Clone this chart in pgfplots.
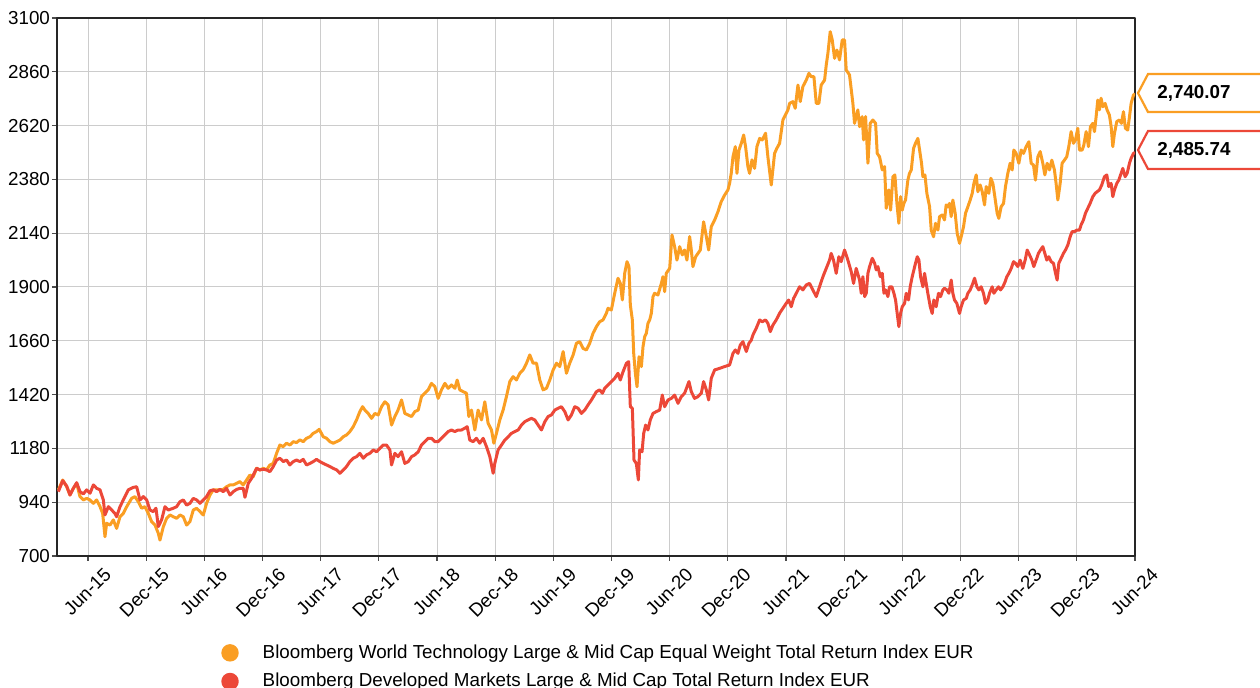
\documentclass[border=0pt]{standalone}
\usepackage{fontspec}
\setmainfont{Liberation Sans}
\usepackage{pgfplots}
\pgfplotsset{compat=1.18}
\definecolor{cOrange}{RGB}{250,158,35}
\definecolor{cRed}{RGB}{236,72,56}
\begin{document}
\begin{tikzpicture}
\useasboundingbox (0,0) rectangle (630pt,344pt);
\begin{axis}[
  at={(28.5pt,66pt)}, anchor=south west,
  scale only axis, width=539pt, height=269pt,
  xmin=1.8, xmax=113, ymin=700, ymax=3100,
  xtick={5,11,17,23,29,35,41,47,53,59,65,71,77,83,89,95,101,107,113},
  xticklabels={Jun-15,Dec-15,Jun-16,Dec-16,Jun-17,Dec-17,Jun-18,Dec-18,Jun-19,Dec-19,Jun-20,Dec-20,Jun-21,Dec-21,Jun-22,Dec-22,Jun-23,Dec-23,Jun-24},
  ytick={700,940,1180,1420,1660,1900,2140,2380,2620,2860,3100},
  xtick pos=bottom, ytick pos=left,
  /pgf/number format/assume math mode=true,
  /pgf/number format/1000 sep={},
  tick label style={font=\fontsize{9.4}{11}\selectfont, text=black},
  xticklabel style={inner sep=0pt, xshift=7.5pt, yshift=-2.5pt, rotate=45, anchor=north east},
  yticklabel style={xshift=2.5pt},
  grid=major,
  major grid style={gray!40, line width=0.5pt},
  axis line style={black!85, line width=0.7pt},
  tick align=outside, major tick length=2.5pt,
  tick style={black!70, line width=0.6pt},
  legend style={at={(axis description cs:0.1465,-0.149)}, anchor=north west, draw=none, fill=none,
    font=\fontsize{9.4}{11}\selectfont, row sep=2pt,
    /tikz/every odd column/.append style={column sep=10pt}},
  legend cell align=left,
  legend image code/.code={\fill[#1] (0pt,0pt) circle (3.6pt);},
  line join=round,
]
\addplot[cOrange, line width=1.5pt] coordinates {
(1.94,995) (2.39,1039) (2.80,1009) (3.14,972) (3.49,1002) (3.83,1024) (4.17,965) (4.52,950) (4.86,957) (5.21,950) (5.55,935) (5.89,950) (6.24,920) (6.51,890) (6.75,786) (6.92,846) (7.27,838) (7.61,861) (7.95,823) (8.30,875) (8.64,890) (8.99,920) (9.50,957) (9.84,965) (10.19,942) (10.53,913) (10.88,920) (11.22,890) (11.56,853) (11.91,838) (12.25,801) (12.42,771) (12.77,831) (13.11,868) (13.45,883) (13.80,875) (14.14,868) (14.48,883) (14.83,875) (15.17,838) (15.51,853) (15.86,905) (16.20,913) (16.55,898) (16.89,883) (17.23,935) (17.58,972) (17.92,995) (18.61,995) (18.95,997) (19.29,1009) (19.64,1017) (19.98,1017) (20.33,1024) (20.67,1032) (21.01,1017) (21.36,1039) (21.70,1061) (22.04,1054) (22.39,1091) (22.73,1084) (23.08,1091) (23.42,1084) (23.76,1106) (24.11,1113) (24.45,1158) (24.79,1195) (25.14,1188) (25.48,1203) (25.82,1195) (26.17,1210) (26.51,1206) (26.86,1218) (27.20,1210) (27.54,1225) (27.89,1232) (28.23,1247) (28.57,1255) (28.85,1265)
(29.26,1232) (29.61,1225) (29.95,1210) (30.29,1203) (30.64,1210) (30.98,1217) (31.33,1232) (31.67,1240) (32.01,1255) (32.36,1277) (32.70,1307) (33.04,1344) (33.32,1366) (33.56,1351) (33.90,1336) (34.25,1314) (34.59,1336) (34.93,1329) (35.28,1366) (35.62,1388) (35.96,1374) (36.31,1284) (36.65,1322) (36.98,1351) (37.34,1396) (37.68,1336) (38.03,1329) (38.37,1322) (38.71,1344) (39.06,1351) (39.40,1411) (39.74,1426) (40.09,1441) (40.43,1470) (40.78,1455) (41.12,1403) (41.46,1441) (41.81,1470) (42.15,1448) (42.49,1463) (42.84,1448) (43.08,1485) (43.35,1441) (43.70,1433) (44.04,1426) (44.28,1322) (44.56,1351) (44.90,1262) (45.24,1351) (45.59,1307) (45.93,1388) (46.27,1292) (46.62,1262) (46.86,1203) (47.13,1247) (47.48,1307) (47.82,1351) (48.16,1411) (48.51,1478) (48.85,1500) (49.19,1485) (49.54,1515) (49.88,1530) (50.23,1560) (50.57,1597) (50.91,1560) (51.26,1560) (51.60,1485) (51.94,1441) (52.29,1448) (52.63,1485) (52.98,1530) (53.32,1560) (53.66,1545) (54.01,1612) (54.35,1515) (54.69,1560) (55.04,1597) (55.38,1649) (55.72,1656) (56.07,1626) (56.41,1619) (56.75,1649)
(57.09,1693) (57.44,1723) (57.78,1745) (58.12,1753) (58.47,1783) (58.64,1805) (58.98,1797) (59.33,1872) (59.67,1939) (59.91,1916) (60.12,1842) (60.36,1961) (60.60,2013) (60.80,1991) (60.94,1820) (61.15,1753) (61.29,1604) (61.46,1515) (61.63,1455) (61.84,1589) (62.08,1545) (62.25,1634) (62.42,1678) (62.59,1693) (62.76,1738) (62.94,1753) (63.11,1783) (63.28,1857) (63.45,1872) (63.79,1864) (64.14,1916) (64.31,1946) (64.48,1879) (64.65,1961) (65.00,1983) (65.24,2132) (65.51,2080) (65.75,2020) (66.03,2080) (66.30,2043) (66.54,2065) (66.78,2020) (67.06,2125) (67.23,2065) (67.40,1991) (67.68,2035) (67.92,2050) (68.16,2065) (68.50,2191) (68.78,2125) (69.02,2065) (69.29,2169) (69.64,2199) (69.98,2236) (70.32,2281) (70.67,2310) (71.01,2333) (71.18,2362) (71.35,2407) (71.53,2481) (71.77,2526) (71.94,2407) (72.15,2511) (72.39,2541) (72.63,2578) (72.83,2526) (73.07,2437) (73.24,2407) (73.49,2467) (73.76,2429) (74.00,2526) (74.28,2563) (74.55,2556) (74.89,2586) (75.13,2481) (75.48,2355) (75.82,2496) (76.06,2519) (76.34,2541) (76.68,2645) (76.85,2660) (77.20,2690) (77.37,2719) (77.71,2727) (77.95,2697) (78.23,2801) (78.47,2727) (78.74,2794) (79.09,2823) (79.36,2853) (79.60,2838) (79.88,2838) (80.12,2719) (80.39,2719) (80.63,2801) (80.98,2823) (81.15,2890) (81.32,2942) (81.56,3039) (81.77,3002) (82.01,2920) (82.25,2957) (82.52,2913) (82.80,3002) (83.04,3002) (83.21,2868) (83.55,2846) (83.90,2719) (84.07,2630) (84.41,2690)
(84.59,2615) (84.86,2660) (85.00,2556) (85.21,2660) (85.45,2452) (85.69,2630) (85.96,2645) (86.24,2630) (86.41,2496) (86.65,2481) (86.93,2422) (87.17,2437) (87.34,2251) (87.61,2333) (87.79,2243) (88.03,2392) (88.23,2400) (88.44,2273) (88.64,2184) (88.82,2303) (88.99,2243) (89.16,2273) (89.33,2288) (89.57,2377) (89.74,2407) (89.92,2422) (90.16,2519) (90.36,2541) (90.60,2563) (90.78,2511) (90.98,2452) (91.12,2392) (91.33,2400) (91.53,2318) (91.81,2258) (91.98,2154) (92.22,2124) (92.42,2184) (92.67,2154) (92.84,2214) (93.11,2221) (93.35,2199) (93.52,2266) (93.70,2258) (93.87,2273) (94.04,2214) (94.21,2288) (94.45,2229) (94.66,2139) (94.90,2095) (95.07,2124) (95.31,2169) (95.52,2229) (95.76,2258) (96.00,2288) (96.21,2318) (96.38,2362) (96.62,2400) (96.79,2325) (97.03,2355) (97.24,2325) (97.48,2266) (97.65,2348) (97.92,2318) (98.13,2385) (98.34,2362) (98.54,2303) (98.78,2229) (98.95,2206) (99.19,2258) (99.44,2273) (99.64,2348) (99.88,2407) (100.12,2452) (100.33,2422) (100.50,2511) (100.74,2496) (101.02,2452) (101.26,2511) (101.50,2496) (101.77,2526) (102.05,2548) (102.29,2452) (102.53,2444) (102.73,2377) (102.98,2481) (103.22,2504) (103.49,2452) (103.70,2400) (103.94,2452) (104.18,2422) (104.42,2466) (104.69,2422) (104.86,2362) (105.04,2288) (105.28,2362) (105.48,2452) (105.72,2466) (105.96,2481) (106.17,2526) (106.41,2593) (106.65,2541) (106.86,2556) (107.10,2608) (107.27,2511) (107.55,2511) (107.72,2533) (107.96,2593) (108.20,2526) (108.40,2615) (108.65,2630) (108.82,2593) (108.99,2660) (109.16,2734) (109.33,2690) (109.50,2742) (109.68,2704) (109.92,2719) (110.12,2690) (110.36,2667) (110.54,2615) (110.71,2526) (110.88,2585) (111.12,2638) (111.39,2645) (111.60,2630) (111.81,2682) (112.01,2608) (112.25,2600) (112.43,2660) (112.60,2719) (112.84,2756) (113.00,2762)
};
\addlegendentry{Bloomberg World Technology Large \& Mid Cap Equal Weight Total Return Index EUR}
\addplot[cRed, line width=1.5pt] coordinates {
(1.94,987) (2.39,1036) (2.80,1012) (3.14,972) (3.49,1002) (3.83,1027) (4.17,987) (4.52,977) (4.86,995) (5.21,980) (5.55,1017) (5.89,1002) (6.24,995) (6.58,950) (6.75,883) (7.10,920) (7.44,905) (7.78,890) (7.95,875) (8.30,920) (8.64,950) (9.16,995) (9.67,1006) (10.02,1009) (10.36,950) (10.70,965) (11.05,950) (11.39,905) (11.73,898) (12.01,913) (12.25,831) (12.59,861) (12.94,920) (13.28,905) (13.80,913) (14.14,920) (14.48,942) (14.83,950) (15.17,927) (15.51,935) (15.86,957) (16.20,950) (16.55,935) (16.89,950) (17.23,965) (17.58,991) (17.92,995) (18.26,987) (18.61,997) (18.95,987) (19.29,1002) (19.64,972) (19.98,987) (20.33,997) (20.67,1002) (21.01,1002) (21.19,962) (21.53,1024) (21.87,1046) (22.39,1091) (22.73,1084) (23.08,1087) (23.42,1084) (23.76,1076) (24.11,1099) (24.45,1128) (24.79,1136) (25.14,1121) (25.48,1128) (25.82,1106) (26.17,1121) (26.51,1128) (26.86,1121) (27.20,1131) (27.54,1106) (27.89,1113) (28.23,1121) (28.57,1131) (28.92,1121)
(29.26,1113) (29.61,1106) (29.95,1099) (30.29,1091) (30.64,1084) (30.98,1069) (31.33,1084) (31.67,1099) (32.01,1121) (32.36,1136) (32.70,1143) (33.04,1158) (33.39,1136) (33.73,1151) (34.07,1158) (34.42,1173) (34.76,1165) (35.11,1180) (35.45,1195) (35.79,1195) (36.14,1173) (36.31,1106) (36.65,1158) (36.98,1143) (37.34,1165) (37.68,1113) (38.03,1121) (38.37,1143) (38.71,1151) (39.06,1165) (39.40,1195) (39.74,1210) (40.09,1225) (40.43,1225) (40.78,1210) (41.12,1210) (41.46,1225) (41.81,1240) (42.15,1255) (42.49,1262) (42.84,1255) (43.18,1262) (43.52,1262) (43.87,1270) (44.11,1277) (44.38,1217) (44.73,1210) (45.07,1225) (45.41,1203) (45.76,1225) (46.10,1188) (46.45,1143) (46.79,1069) (46.96,1113) (47.30,1173) (47.65,1195) (47.99,1217) (48.34,1232) (48.68,1247) (49.02,1255) (49.37,1262) (49.71,1284) (50.05,1299) (50.40,1307) (50.74,1314) (51.08,1307) (51.43,1284) (51.77,1262) (52.12,1299) (52.46,1322) (52.80,1329) (53.15,1351) (53.49,1359) (53.83,1366) (54.18,1344) (54.52,1307) (54.86,1329) (55.21,1366) (55.55,1359) (55.90,1336) (56.24,1351) (56.58,1374) (56.93,1396)
(57.44,1433) (57.78,1441) (58.06,1426) (58.30,1448) (58.64,1463) (58.98,1478) (59.33,1493) (59.67,1515) (59.91,1485) (60.19,1522) (60.53,1559) (60.77,1567) (60.94,1366) (61.15,1359) (61.32,1128) (61.56,1113) (61.77,1039) (61.90,1173) (62.15,1165) (62.32,1247) (62.52,1284) (62.76,1262) (63.00,1307) (63.28,1336) (63.62,1344) (63.97,1351) (64.24,1418) (64.48,1366) (64.83,1396) (65.17,1403) (65.51,1418) (65.86,1381) (66.20,1411) (66.54,1426) (66.99,1478) (67.23,1433) (67.57,1403) (67.92,1411) (68.26,1426) (68.50,1478) (68.78,1441) (69.02,1396) (69.29,1493) (69.64,1530) (70.15,1537) (70.67,1545) (71.18,1552) (71.53,1604) (71.77,1619) (72.04,1604) (72.28,1641) (72.56,1656) (72.90,1612) (73.18,1649) (73.42,1663) (73.59,1686) (73.93,1716) (74.28,1753) (74.55,1745) (74.89,1753) (75.13,1738) (75.38,1701) (75.65,1730) (75.99,1753) (76.34,1783) (76.68,1805) (77.02,1827) (77.27,1842) (77.54,1812) (77.78,1849) (78.06,1872) (78.40,1901) (78.74,1887) (79.09,1909) (79.43,1916) (79.77,1887) (80.12,1857) (80.46,1901) (80.81,1946) (81.15,1983) (81.49,2020) (81.66,2050) (81.90,2020) (82.18,1961) (82.45,2035) (82.69,2013) (83.04,2065) (83.38,2020) (83.73,1968) (83.97,1916) (84.24,1983)
(84.59,1931) (84.76,1872) (84.93,1946) (85.11,1857) (85.28,1872) (85.45,1961) (85.62,1991) (85.90,2028) (86.14,2006) (86.31,1976) (86.48,1991) (86.72,1946) (86.93,1961) (87.10,1872) (87.27,1887) (87.51,1857) (87.68,1901) (87.92,1901) (88.13,1872) (88.30,1842) (88.47,1782) (88.64,1723) (88.82,1782) (88.99,1812) (89.23,1827) (89.40,1872) (89.64,1842) (89.81,1901) (90.02,1946) (90.19,1976) (90.36,2006) (90.54,2035) (90.71,2020) (90.88,1946) (91.12,1901) (91.29,1961) (91.46,1916) (91.63,1872) (91.88,1812) (92.08,1782) (92.25,1842) (92.49,1812) (92.73,1872) (92.94,1857) (93.18,1887) (93.35,1894) (93.59,1887) (93.80,1872) (94.04,1931) (94.21,1872) (94.38,1842) (94.62,1827) (94.90,1782) (95.07,1812) (95.31,1842) (95.59,1849) (95.76,1872) (96.00,1887) (96.27,1916) (96.45,1939) (96.69,1901) (96.89,1887) (97.13,1901) (97.37,1872) (97.58,1827) (97.82,1842) (97.99,1872) (98.27,1901) (98.44,1872) (98.68,1887) (98.92,1901) (99.13,1887) (99.37,1901) (99.61,1924) (99.78,1946) (99.99,1961) (100.23,1983) (100.47,2013) (100.67,2006) (100.91,1991) (101.15,2020) (101.43,1983) (101.67,2020) (101.88,2065) (102.12,2043) (102.36,2020) (102.56,1991) (102.80,2020) (103.04,2050) (103.25,2065) (103.49,2080) (103.70,2050) (103.90,2020) (104.11,2035) (104.35,2013) (104.59,2006) (104.80,1961) (104.97,1931) (105.14,2006) (105.38,2028) (105.62,2050) (105.83,2065) (106.07,2087) (106.31,2124) (106.51,2147) (106.76,2147) (107.00,2154) (107.27,2154) (107.44,2177) (107.68,2199) (107.89,2229) (108.13,2251) (108.37,2273) (108.65,2303) (108.89,2318) (109.09,2325) (109.33,2333) (109.57,2355) (109.85,2392) (110.09,2400) (110.29,2348) (110.54,2362) (110.71,2303) (110.88,2333) (111.12,2362) (111.33,2377) (111.57,2407) (111.74,2429) (111.98,2392) (112.19,2407) (112.43,2452) (112.60,2474) (112.84,2496) (113.00,2500)
};
\addlegendentry{Bloomberg Developed Markets Large \& Mid Cap Total Return Index EUR}
\coordinate (oend) at (axis cs:113,2765);
\coordinate (rend) at (axis cs:113,2511);
\end{axis}
\draw[cOrange, line width=1.1pt, fill=white, line join=miter] ([xshift=1.5pt]oend) -- ++(5pt,9.5pt) -- ++(70pt,0) -- ++(0,-19pt) -- ++(-70pt,0) -- cycle;
\node[anchor=west, inner sep=0pt, font=\fontsize{9.4}{11}\selectfont\bfseries] at ([xshift=11pt]oend) {2,740.07};
\draw[cRed, line width=1.1pt, fill=white, line join=miter] ([xshift=1.5pt]rend) -- ++(5pt,9.5pt) -- ++(70pt,0) -- ++(0,-19pt) -- ++(-70pt,0) -- cycle;
\node[anchor=west, inner sep=0pt, font=\fontsize{9.4}{11}\selectfont\bfseries] at ([xshift=11pt]rend) {2,485.74};
\end{tikzpicture}
\end{document}
